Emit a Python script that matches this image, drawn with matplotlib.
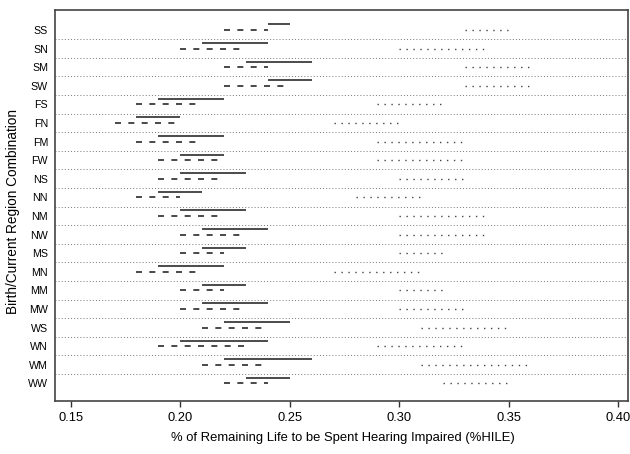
import matplotlib
matplotlib.use("Agg")
import matplotlib.pyplot as plt

plt.rcParams['font.family'] = ['Liberation Sans', 'DejaVu Sans']

# birth/current region combinations, top to bottom
regions = ['SS', 'SN', 'SM', 'SW', 'FS', 'FN', 'FM', 'FW', 'NS', 'NN',
           'NM', 'NW', 'MS', 'MN', 'MM', 'MW', 'WS', 'WN', 'WM', 'WW']

# solid segments (start, end)
solid_lo = [0.24, 0.21, 0.23, 0.24, 0.19, 0.18, 0.19, 0.20, 0.20, 0.19,
            0.20, 0.21, 0.21, 0.19, 0.21, 0.21, 0.22, 0.20, 0.22, 0.23]
solid_hi = [0.25, 0.24, 0.26, 0.26, 0.22, 0.20, 0.22, 0.22, 0.23, 0.21,
            0.23, 0.24, 0.23, 0.22, 0.23, 0.24, 0.25, 0.24, 0.26, 0.25]

# dashed segments
dash_lo = [0.22, 0.20, 0.22, 0.22, 0.18, 0.17, 0.18, 0.19, 0.19, 0.18,
           0.19, 0.20, 0.20, 0.18, 0.20, 0.20, 0.21, 0.19, 0.21, 0.22]
dash_hi = [0.24, 0.23, 0.24, 0.25, 0.21, 0.20, 0.21, 0.22, 0.22, 0.20,
           0.22, 0.23, 0.22, 0.21, 0.22, 0.23, 0.24, 0.23, 0.24, 0.24]

# dotted segments
dot_lo = [0.33, 0.30, 0.33, 0.33, 0.29, 0.27, 0.29, 0.29, 0.30, 0.28,
          0.30, 0.30, 0.30, 0.27, 0.30, 0.30, 0.31, 0.29, 0.31, 0.32]
dot_hi = [0.35, 0.34, 0.36, 0.36, 0.32, 0.30, 0.33, 0.33, 0.33, 0.31,
          0.34, 0.34, 0.32, 0.31, 0.32, 0.33, 0.35, 0.33, 0.36, 0.35]

xticks = [0.15, 0.20, 0.25, 0.30, 0.35, 0.40]

fig = plt.figure(figsize=(6.30, 4.54), dpi=100)
ax = fig.add_axes([55 / 630, 1 - 401 / 454, 573 / 630, 391 / 454])

n = len(regions)
for i in range(n):
    if i > 0:
        ax.axhline(i - 0.5, color='#777777', lw=0.7, linestyle=(0, (1, 2.2)))
    ax.plot([solid_lo[i], solid_hi[i]], [i - 0.3, i - 0.3], color='#1a1a1a', lw=1.1,
            solid_capstyle='butt')
    ax.plot([dash_lo[i], dash_hi[i]], [i, i], color='#2a2a2a', lw=1.2,
            linestyle=(0, (3.6, 4.4)))
    ax.plot([dot_lo[i], dot_hi[i]], [i, i], color='#444444', lw=1.0,
            linestyle=(0, (1, 4.0)))

ax.set_xlim(0.1428, 0.4044)
ax.set_ylim(n - 1 + 0.95, -1.075)
ax.set_xticks(xticks)
ax.set_xticklabels(['%.2f' % t for t in xticks])
ax.set_yticks(range(n))
ax.set_yticklabels(regions)
ax.tick_params(axis='x', length=4.3, width=1.0, color='#333333', labelsize=9.3, pad=3.5)
ax.tick_params(axis='y', length=0, labelsize=7.7, pad=5)
for s in ax.spines.values():
    s.set_color('#444444')
    s.set_linewidth(1.2)

ax.set_xlabel('% of Remaining Life to be Spent Hearing Impaired (%HILE)', fontsize=9.4)
ax.set_ylabel('Birth/Current Region Combination', fontsize=9.8)
ax.xaxis.set_label_coords((343 - 55) / 573, -(432 - 401) / 391)
ax.yaxis.set_label_coords(-(55 - 20) / 573, (401 - 212) / 391)

fig.savefig('out.png', dpi=100)
